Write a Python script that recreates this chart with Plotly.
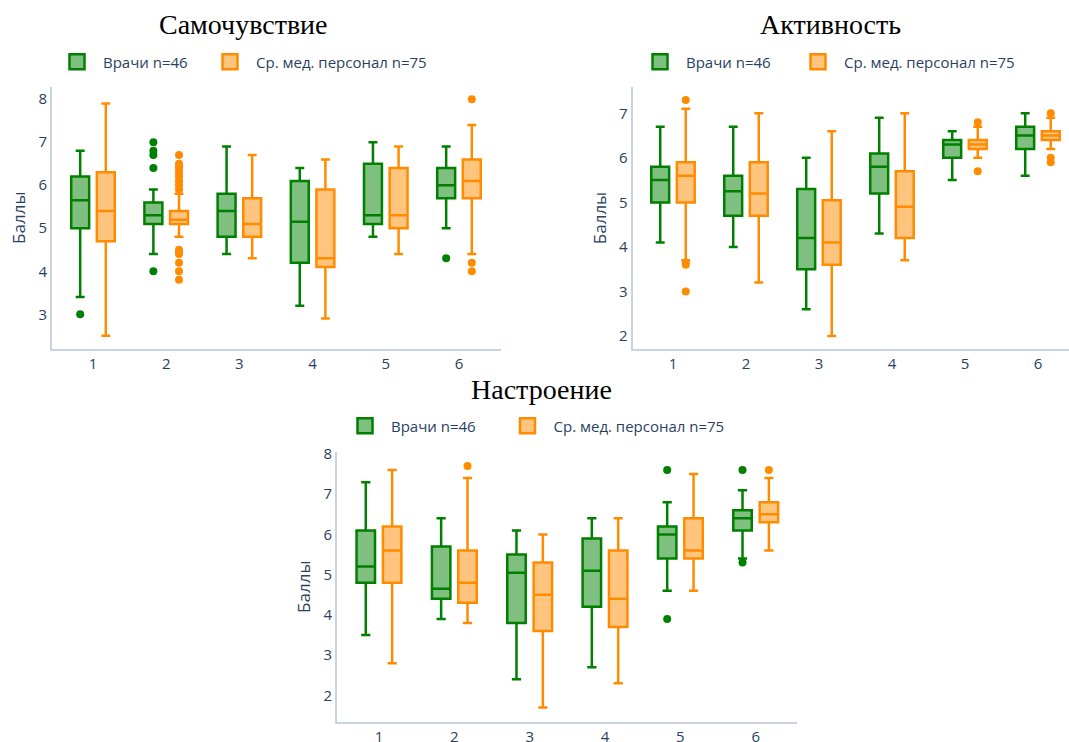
import plotly.graph_objects as go

W, H = 1069, 742
categories = [1, 2, 3, 4, 5, 6]
name_doc = "Врачи n=46"
name_nurse = "Ср. мед. персонал n=75"
titles = ["Самочувствие", "Активность", "Настроение"]
ytitle = "Баллы"

# Самочувствие
p1_doc_q1 = [5.0, 5.1, 4.8, 4.2, 5.1, 5.7]
p1_doc_med = [5.65, 5.3, 5.4, 5.15, 5.3, 6.0]
p1_doc_q3 = [6.2, 5.6, 5.8, 6.1, 6.5, 6.4]
p1_doc_lo = [3.4, 4.4, 4.4, 3.2, 4.8, 5.0]
p1_doc_hi = [6.8, 5.9, 6.9, 6.4, 7.0, 6.9]
p1_doc_out = [[3.0], [7.0, 6.8, 6.7, 6.4, 4.0], [], [], [], [4.3]]
p1_nur_q1 = [4.7, 5.1, 4.8, 4.1, 5.0, 5.7]
p1_nur_med = [5.4, 5.2, 5.1, 4.3, 5.3, 6.1]
p1_nur_q3 = [6.3, 5.4, 5.7, 5.9, 6.4, 6.6]
p1_nur_lo = [2.5, 4.8, 4.3, 2.9, 4.4, 4.4]
p1_nur_hi = [7.9, 5.8, 6.7, 6.6, 6.9, 7.4]
p1_nur_out = [[], [6.7, 6.5, 6.45, 6.4, 6.3, 6.2, 6.1, 6.0, 5.9, 4.5, 4.45, 4.4, 4.2, 4.0, 3.8],
              [], [], [], [8.0, 4.2, 4.0]]

# Активность
p2_doc_q1 = [5.0, 4.7, 3.5, 5.2, 6.0, 6.2]
p2_doc_med = [5.5, 5.25, 4.2, 5.8, 6.3, 6.5]
p2_doc_q3 = [5.8, 5.6, 5.3, 6.1, 6.4, 6.7]
p2_doc_lo = [4.1, 4.0, 2.6, 4.3, 5.5, 5.6]
p2_doc_hi = [6.7, 6.7, 6.0, 6.9, 6.6, 7.0]
p2_doc_out = [[], [], [], [], [], []]
p2_nur_q1 = [5.0, 4.7, 3.6, 4.2, 6.2, 6.4]
p2_nur_med = [5.6, 5.2, 4.1, 4.9, 6.3, 6.5]
p2_nur_q3 = [5.9, 5.9, 5.05, 5.7, 6.4, 6.6]
p2_nur_lo = [3.7, 3.2, 2.0, 3.7, 6.0, 6.2]
p2_nur_hi = [7.1, 7.0, 6.6, 7.0, 6.7, 6.9]
p2_nur_out = [[7.3, 3.65, 3.6, 3.0], [], [], [], [6.8, 5.7], [7.0, 6.0, 5.9]]

# Настроение
p3_doc_q1 = [4.8, 4.4, 3.8, 4.2, 5.4, 6.1]
p3_doc_med = [5.2, 4.65, 5.05, 5.1, 6.0, 6.4]
p3_doc_q3 = [6.1, 5.7, 5.5, 5.9, 6.2, 6.6]
p3_doc_lo = [3.5, 3.9, 2.4, 2.7, 4.6, 5.4]
p3_doc_hi = [7.3, 6.4, 6.1, 6.4, 6.8, 7.1]
p3_doc_out = [[], [], [], [], [7.6, 3.9], [7.6, 5.3]]
p3_nur_q1 = [4.8, 4.3, 3.6, 3.7, 5.4, 6.3]
p3_nur_med = [5.6, 4.8, 4.5, 4.4, 5.6, 6.5]
p3_nur_q3 = [6.2, 5.6, 5.3, 5.6, 6.4, 6.8]
p3_nur_lo = [2.8, 3.8, 1.7, 2.3, 4.6, 5.6]
p3_nur_hi = [7.6, 7.4, 6.0, 6.4, 7.5, 7.4]
p3_nur_out = [[], [7.7], [], [], [], [7.6]]

GREEN = "green"
GREEN_FILL = "rgba(0,128,0,0.5)"
ORANGE = "darkorange"
ORANGE_FILL = "rgba(255,140,0,0.5)"

panels = [
    (p1_doc_q1, p1_doc_med, p1_doc_q3, p1_doc_lo, p1_doc_hi, p1_doc_out,
     p1_nur_q1, p1_nur_med, p1_nur_q3, p1_nur_lo, p1_nur_hi, p1_nur_out),
    (p2_doc_q1, p2_doc_med, p2_doc_q3, p2_doc_lo, p2_doc_hi, p2_doc_out,
     p2_nur_q1, p2_nur_med, p2_nur_q3, p2_nur_lo, p2_nur_hi, p2_nur_out),
    (p3_doc_q1, p3_doc_med, p3_doc_q3, p3_doc_lo, p3_doc_hi, p3_doc_out,
     p3_nur_q1, p3_nur_med, p3_nur_q3, p3_nur_lo, p3_nur_hi, p3_nur_out),
]

W_, H_ = W, H


def px(x):
    return x / W_


def py(y):
    return 1 - y / H_


# one legend per entry: (x of legend left edge in px, y centre in px)
legend_slots = [
    [("legend", 51, 62), ("legend4", 204, 62)],
    [("legend2", 634, 62), ("legend5", 792, 62)],
    [("legend3", 339, 426), ("legend6", 501.5, 426)],
]

fig = go.Figure()
for i, p in enumerate(panels):
    xa = "x" if i == 0 else f"x{i+1}"
    ya = "y" if i == 0 else f"y{i+1}"
    groups = [("doc", name_doc, GREEN, GREEN_FILL, p[0:6]),
              ("nurse", name_nurse, ORANGE, ORANGE_FILL, p[6:12])]
    for k, (gid, name, col, fill, (q1, med, q3, lo, hi, out)) in enumerate(groups):
        # rows without outliers carry the box median (inside the fences, so never drawn)
        pts = [o if o else [m] for o, m in zip(out, med)]
        fig.add_trace(go.Box(
            x=categories, q1=q1, median=med, q3=q3, lowerfence=lo, upperfence=hi,
            y=pts, boxpoints="outliers", pointpos=0, jitter=0,
            name=name, legendgroup=f"{gid}{i}", showlegend=False,
            offsetgroup=gid, alignmentgroup=f"panel{i}",
            line=dict(color=col, width=2.5), fillcolor=fill,
            marker=dict(color=col, size=8),
            xaxis=xa, yaxis=ya, hoverinfo="skip"))
        fig.add_trace(go.Scatter(
            x=[None], y=[None], mode="markers", name=name, legendgroup=f"{gid}{i}",
            marker=dict(symbol="square", size=15, color=fill, line=dict(color=col, width=2.5)),
            xaxis=xa, yaxis=ya, legend=legend_slots[i][k][0], showlegend=True))


axis_common = dict(showline=True, linecolor="#c8d4e3", linewidth=2, showgrid=False,
                   zeroline=False, ticks="", automargin=False,
                   tickfont=dict(family="Open Sans", size=15, color="#2a3f5f"))

doms = [
    ([px(52), px(500.7)], [py(348.7), py(86.7)], [0.44, 6.57], [2.20, 8.29]),
    ([px(632.7), 1.0], [py(348.7), py(87.3)], [0.448, 6.425], [1.715, 7.584]),
    ([px(337), px(797)], [py(721.7), py(451.7)], [0.443, 6.548], [1.344, 8.057]),
]
layout = dict(width=W, height=H, margin=dict(l=0, r=0, t=0, b=0),
              paper_bgcolor="white", plot_bgcolor="white",
              boxmode="group", font=dict(family="Open Sans", color="#2a3f5f"))
for i, (xd, yd, xr, yr) in enumerate(doms):
    sx = "" if i == 0 else str(i + 1)
    layout[f"xaxis{sx}"] = dict(axis_common, domain=xd, range=xr, anchor=f"y{sx}",
                                tickmode="array", tickvals=categories,
                                ticktext=[str(c) for c in categories])
    layout[f"yaxis{sx}"] = dict(axis_common, domain=yd, range=yr, anchor=f"x{sx}",
                                dtick=1,
                                title=dict(text=ytitle, font=dict(size=17, color="#2a3f5f"),
                                           standoff=8))

leg_common = dict(orientation="h", xanchor="left", yanchor="middle",
                  font=dict(family="Open Sans", size=15, color="#2a3f5f"),
                  bgcolor="rgba(0,0,0,0)", itemclick=False, itemwidth=42)
for slots in legend_slots:
    for lid, lx, ly in slots:
        layout[lid] = dict(leg_common, x=px(lx), y=py(ly))

title_pos = [(243.5, 25), (830.5, 25), (541.5, 389)]
layout["annotations"] = [
    dict(text=t, x=px(x), y=py(y), xref="paper", yref="paper", showarrow=False,
         xanchor="center", yanchor="middle",
         font=dict(family="Liberation Serif", size=28, color="black"))
    for t, (x, y) in zip(titles, title_pos)
]
fig.update_layout(**layout)
fig.write_html("out.html", config={"displayModeBar": False},
               post_script="document.body.style.margin='0';document.body.style.padding='0';")
